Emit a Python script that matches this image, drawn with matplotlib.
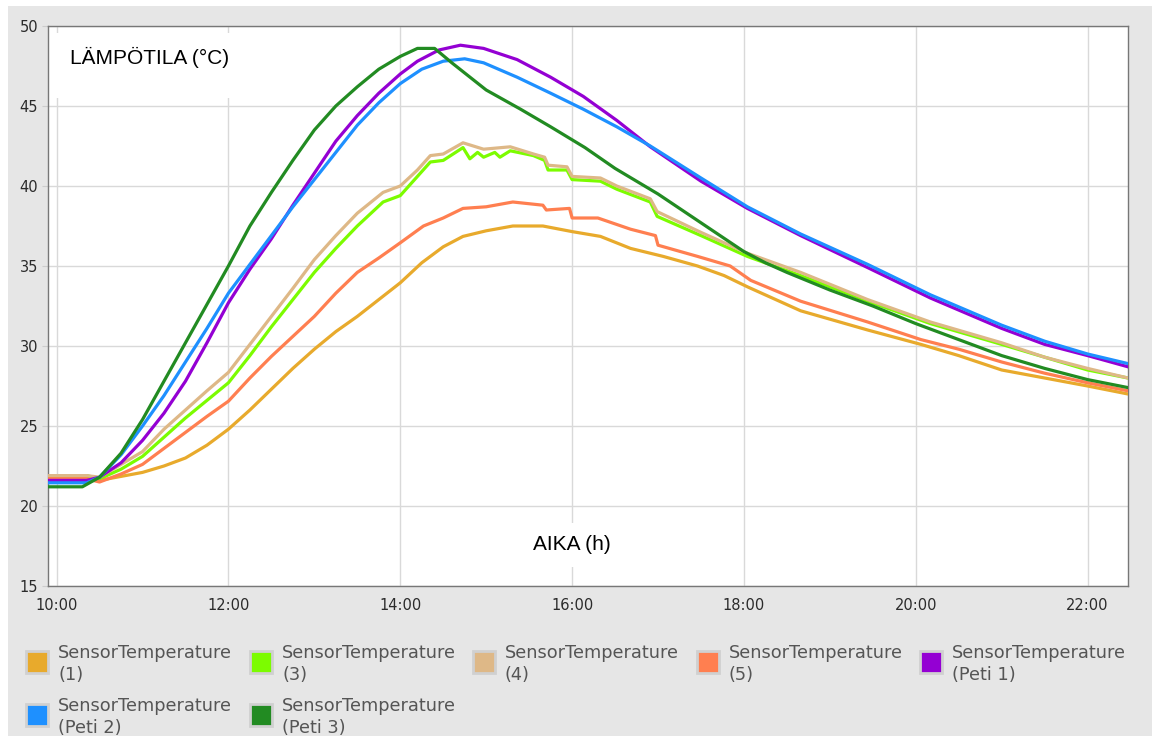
import matplotlib.pyplot as plt
from matplotlib.patches import Rectangle
from matplotlib.ticker import FuncFormatter, MultipleLocator

# time in hours of day, temperature in degrees C
t_s1 = [9.9, 10.35, 10.5, 10.75, 11.0, 11.25, 11.5, 11.75, 12.0, 12.25, 12.5, 12.75, 13.0, 13.25,
        13.5, 13.75, 14.0, 14.25, 14.5, 14.73, 15.0, 15.31, 15.66, 16.0, 16.33, 16.68, 17.06,
        17.46, 17.77, 18.04, 18.66, 19.44, 20.06, 20.5, 21.0, 21.5, 22.0, 22.47]
v_s1 = [21.8, 21.8, 21.6, 21.85, 22.1, 22.5, 23.0, 23.8, 24.8, 26.0, 27.3, 28.6, 29.8, 30.9,
        31.85, 32.9, 33.95, 35.2, 36.2, 36.85, 37.2, 37.5, 37.5, 37.15, 36.85, 36.1, 35.6,
        35.0, 34.4, 33.7, 32.2, 31.0, 30.1, 29.4, 28.5, 28.0, 27.5, 27.0]

t_s3 = [9.9, 10.35, 10.5, 10.75, 11.0, 11.25, 11.5, 11.75, 12.0, 12.25, 12.5, 12.75, 13.0, 13.25,
        13.5, 13.8, 14.0, 14.2, 14.35, 14.5, 14.73, 14.81, 14.9, 14.97, 15.1, 15.16, 15.28,
        15.55, 15.68, 15.72, 15.94, 16.0, 16.33, 16.52, 16.91, 16.99, 17.5, 18.04, 18.66,
        19.44, 20.17, 21.0, 21.5, 22.0, 22.47]
v_s3 = [21.9, 21.9, 21.7, 22.3, 23.1, 24.3, 25.5, 26.6, 27.7, 29.4, 31.2, 32.9, 34.6, 36.1,
        37.5, 39.0, 39.4, 40.6, 41.5, 41.6, 42.4, 41.7, 42.1, 41.8, 42.1, 41.8, 42.2,
        41.9, 41.6, 41.0, 41.0, 40.4, 40.3, 39.8, 39.0, 38.1, 36.9, 35.6, 34.4,
        32.8, 31.4, 30.1, 29.3, 28.5, 28.0]

t_s4 = [9.9, 10.35, 10.5, 10.75, 11.0, 11.25, 11.5, 11.75, 12.0, 12.25, 12.5, 12.75, 13.0, 13.25,
        13.5, 13.8, 14.0, 14.2, 14.35, 14.5, 14.73, 14.97, 15.28, 15.55, 15.68, 15.72, 15.94,
        16.0, 16.33, 16.52, 16.91, 16.99, 17.5, 18.04, 18.66, 19.44, 20.17, 21.0, 21.5, 22.0,
        22.47]
v_s4 = [21.9, 21.9, 21.8, 22.6, 23.4, 24.8, 26.0, 27.2, 28.35, 30.1, 31.85, 33.6, 35.4, 36.9,
        38.3, 39.6, 40.0, 41.0, 41.9, 42.0, 42.7, 42.3, 42.45, 42.0, 41.8, 41.3, 41.2,
        40.6, 40.5, 40.0, 39.2, 38.4, 37.1, 35.8, 34.6, 32.9, 31.5, 30.2, 29.3, 28.6,
        28.0]

t_s5 = [9.9, 10.35, 10.5, 10.75, 11.0, 11.25, 11.5, 11.75, 12.0, 12.25, 12.5, 12.75, 13.0, 13.25,
        13.5, 13.75, 14.0, 14.27, 14.5, 14.73, 15.0, 15.31, 15.66, 15.7, 15.97, 16.0, 16.3,
        16.68, 16.97, 17.0, 17.46, 17.84, 18.08, 18.66, 19.44, 20.06, 20.5, 21.0, 21.5, 22.0,
        22.47]
v_s5 = [21.7, 21.7, 21.5, 22.0, 22.6, 23.6, 24.6, 25.6, 26.55, 28.0, 29.35, 30.6, 31.85, 33.3,
        34.6, 35.5, 36.45, 37.5, 38.0, 38.6, 38.7, 39.0, 38.8, 38.5, 38.6, 38.0, 38.0,
        37.3, 36.9, 36.3, 35.6, 35.0, 34.1, 32.8, 31.5, 30.4, 29.8, 29.0, 28.3, 27.7,
        27.2]

t_p1 = [9.9, 10.35, 10.5, 10.75, 11.0, 11.25, 11.5, 11.75, 12.0, 12.25, 12.5, 12.75, 13.0, 13.25,
        13.5, 13.75, 14.0, 14.2, 14.45, 14.7, 14.97, 15.36, 15.75, 16.13, 16.52, 16.91, 17.5,
        18.04, 18.66, 19.44, 20.17, 21.0, 21.5, 22.0, 22.47]
v_p1 = [21.6, 21.6, 21.8, 22.7, 24.1, 25.8, 27.8, 30.2, 32.7, 34.8, 36.7, 38.8, 40.8, 42.8,
        44.4, 45.8, 47.0, 47.8, 48.5, 48.8, 48.6, 47.9, 46.8, 45.6, 44.1, 42.45, 40.3,
        38.6, 36.9, 34.9, 33.0, 31.1, 30.1, 29.4, 28.7]

t_p2 = [9.9, 10.35, 10.5, 10.75, 11.0, 11.25, 11.5, 11.75, 12.0, 12.25, 12.5, 12.75, 13.0, 13.25,
        13.5, 13.75, 14.0, 14.25, 14.5, 14.75, 14.97, 15.36, 15.75, 16.13, 16.52, 16.91, 17.5,
        18.04, 18.66, 19.44, 20.17, 21.0, 21.5, 22.0, 22.47]
v_p2 = [21.45, 21.45, 21.8, 23.2, 25.0, 26.9, 29.0, 31.1, 33.3, 35.1, 36.9, 38.7, 40.4, 42.1,
        43.8, 45.2, 46.4, 47.3, 47.8, 47.95, 47.7, 46.8, 45.8, 44.8, 43.7, 42.5, 40.5,
        38.7, 37.0, 35.1, 33.2, 31.3, 30.3, 29.5, 28.9]

t_p3 = [9.9, 10.3, 10.5, 10.75, 11.0, 11.25, 11.5, 11.75, 12.0, 12.25, 12.5, 12.75, 13.0, 13.25,
        13.5, 13.75, 14.0, 14.2, 14.4, 14.6, 15.0, 15.4, 15.75, 16.15, 16.5, 17.0, 17.5, 18.0,
        18.25, 18.5, 19.0, 19.5, 20.0, 20.5, 21.0, 21.5, 22.0, 22.47]
v_p3 = [21.2, 21.2, 21.8, 23.3, 25.4, 27.8, 30.2, 32.6, 35.0, 37.5, 39.6, 41.6, 43.5, 45.0,
        46.2, 47.3, 48.1, 48.6, 48.6, 47.7, 46.0, 44.8, 43.7, 42.4, 41.1, 39.5, 37.7, 35.9,
        35.2, 34.6, 33.5, 32.5, 31.4, 30.4, 29.4, 28.6, 27.9, 27.4]

labels = ["SensorTemperature\n(1)", "SensorTemperature\n(3)", "SensorTemperature\n(4)",
          "SensorTemperature\n(5)", "SensorTemperature\n(Peti 1)", "SensorTemperature\n(Peti 2)",
          "SensorTemperature\n(Peti 3)"]
colors = ["#e8aa2c", "#7cfc00", "#deb887", "#ff7f50", "#9400d3", "#1e90ff", "#228b22"]
series = [(t_s1, v_s1), (t_s3, v_s3), (t_s4, v_s4), (t_s5, v_s5),
          (t_p1, v_p1), (t_p2, v_p2), (t_p3, v_p3)]

W, H = 1152, 736
fig = plt.figure(figsize=(W / 100, H / 100), dpi=100, facecolor="white")
# grey panel behind the chart
fig.add_artist(Rectangle((8 / W, 0), 1, 1 - 6 / H, transform=fig.transFigure,
                         facecolor="#e6e6e6", edgecolor="none", zorder=-10))

ax = fig.add_axes([48 / W, 1 - 586 / H, 1080 / W, 560 / H])
ax.set_facecolor("white")

for (t, v), c in zip(series, colors):
    ax.plot(t, v, color=c, lw=2.3, solid_joinstyle="round", zorder=3)

ax.set_xlim(9.9, 22.47)
ax.set_ylim(15, 50)
ax.xaxis.set_major_locator(MultipleLocator(2))
ax.yaxis.set_major_locator(MultipleLocator(5))
ax.xaxis.set_major_formatter(FuncFormatter(lambda x, p: f"{int(x):02d}:00"))
ax.grid(True, color="#d9d9d9", lw=1)
ax.set_axisbelow(True)
ax.tick_params(axis="y", length=4, color="#cccccc", pad=3, labelsize=10.5, labelcolor="#2b2b2b")
ax.tick_params(axis="x", length=0, pad=9, labelsize=10.5, labelcolor="#2b2b2b")
for s in ax.spines.values():
    s.set_color("#777777")
    s.set_linewidth(1)

# white label panels that hide the grid behind the axis captions
ax.add_patch(Rectangle((0, 1 - 72 / 560), 260 / 1080, 65 / 560, transform=ax.transAxes,
                       facecolor="white", edgecolor="none", zorder=1))
ax.text(22 / 1080, 1 - 31 / 560, "LÄMPÖTILA (°C)", transform=ax.transAxes, fontsize=15,
        family="Liberation Sans", va="center", ha="left", zorder=2)
ax.text(524 / 1080, 41 / 560, "AIKA (h)", transform=ax.transAxes, fontsize=15,
        family="Liberation Sans", va="center", ha="center", zorder=2,
        bbox=dict(facecolor="white", edgecolor="none", pad=9))

# legend, laid out row by row like the original
col_x = [26, 250, 473, 697, 920]
row_y = [662, 715]
for i, (lab, c) in enumerate(zip(labels, colors)):
    x = col_x[i % 5]
    y = row_y[i // 5]
    fig.add_artist(Rectangle((x / W, 1 - (y + 11) / H), 22 / W, 22 / H, transform=fig.transFigure,
                             facecolor=c, edgecolor="#d0d0d0", lw=2))
    fig.text((x + 32) / W, 1 - (y + 2) / H, lab, fontsize=12.8, color="#555555",
             va="center", ha="left", linespacing=1.25)

fig.savefig("out.png", dpi=100)
